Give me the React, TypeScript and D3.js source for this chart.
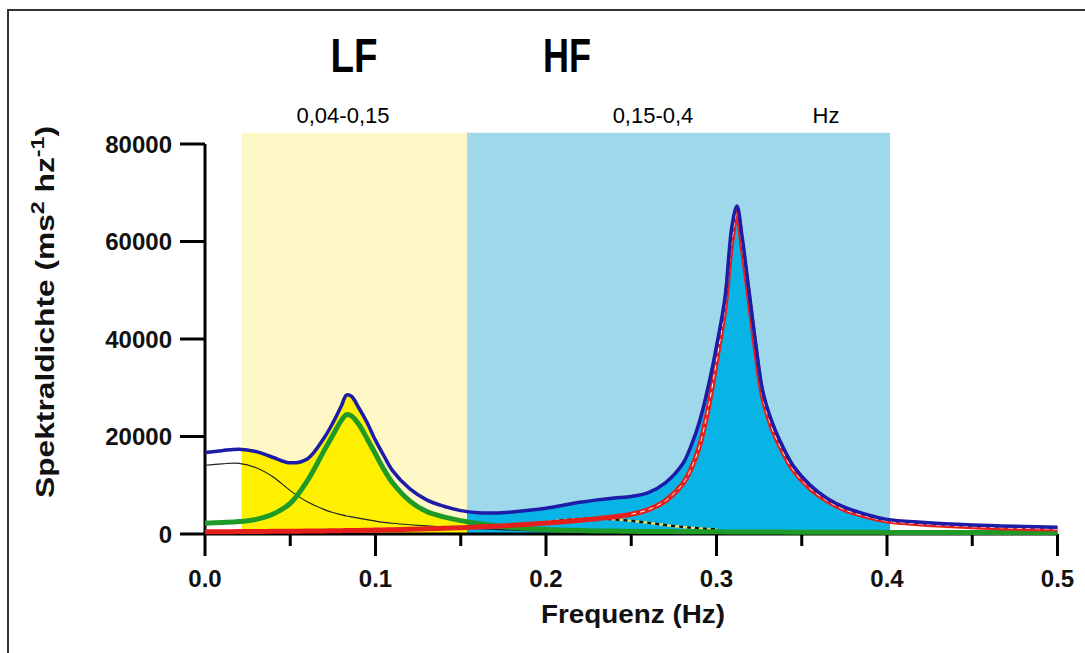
import * as React from "react";
import * as d3 from "d3";

// frequency grid (Hz), shared by every curve below
const freqs = [
  0, 0.01, 0.02, 0.03, 0.04, 0.05, 0.06, 0.07, 0.075, 0.08, 0.083, 0.086, 0.09, 0.095,
  0.1, 0.105, 0.11, 0.12, 0.13, 0.14, 0.15, 0.16, 0.17, 0.18, 0.19, 0.2, 0.21, 0.22,
  0.23, 0.24, 0.25, 0.26, 0.27, 0.28, 0.285, 0.29, 0.295, 0.3, 0.305, 0.309, 0.312,
  0.315, 0.319, 0.323, 0.327, 0.332, 0.337, 0.345, 0.355, 0.365, 0.375, 0.39, 0.4,
  0.42, 0.45, 0.48, 0.5,
];

// total spectrum (blue)
const totalPower = [
  16700, 17100, 17400, 16900, 15700, 14600, 15400, 19800, 22800, 26300, 28500, 28200, 26000, 22900,
  19200, 16000, 13000, 9300, 7000, 5700, 4800, 4350, 4300, 4500, 4850, 5300, 5900, 6500,
  7000, 7400, 7700, 8500, 10500, 14300, 18000, 23000, 30000, 38500, 48500, 63000, 67300,
  61000, 50000, 39000, 29500, 23500, 19300, 14000, 10000, 7300, 5500, 3800, 3000,
  2400, 1850, 1550, 1400,
];

// VLF component (thin black)
const vlfPower = [
  14100, 14400, 14500, 13600, 11700, 8900, 6600, 5000, 4400, 3950, 3700, 3500, 3250, 2950,
  2650, 2400, 2200, 1900, 1650, 1450, 1250, 1080, 930, 800, 700, 610, 540, 480,
  430, 390, 350, 320, 290, 270, 260, 250, 240, 230, 220, 215, 210,
  205, 200, 195, 190, 185, 180, 170, 160, 150, 140, 130, 125,
  115, 100, 90, 85,
];

// LF component (green)
const lfPower = [
  2200, 2350, 2550, 3000, 4100, 6300, 10900, 17200, 20300, 23300, 24500, 24200, 22600, 19600,
  16400, 13200, 10500, 6800, 4600, 3500, 2750, 2150, 1700, 1350, 1100, 900, 780, 700,
  640, 590, 550, 520, 500, 480, 470, 460, 450, 440, 430, 425, 420,
  415, 410, 405, 400, 395, 390, 380, 370, 360, 350, 340, 330,
  320, 300, 290, 280,
];

// small component near 0.22 Hz (dashed), only where it shows
const midPower = [
  null, null, null, null, null, null, null, null, null, null, null, null, null, null,
  null, null, null, null, null, null, null, null, null, 1500, 2000, 2450, 2850, 3100,
  3150, 3000, 2700, 2300, 1850, 1450, 1300, 1150, 1050, 950, null, null, null,
  null, null, null, null, null, null, null, null, null, null, null, null,
  null, null, null, null,
];

// HF component (red)
const hfPower = [
  450, 470, 490, 510, 540, 570, 600, 640, 660, 680, 700, 710, 730, 760,
  800, 840, 880, 970, 1070, 1180, 1300, 1440, 1600, 1780, 2000, 2230, 2500, 2800,
  3150, 3550, 4050, 5000, 6800, 10200, 13300, 18000, 25500, 35500, 46500, 60000, 66000,
  59000, 48500, 37500, 28200, 22200, 18200, 13100, 9300, 6800, 5000, 3400, 2650,
  2050, 1500, 1150, 1000,
];

// upper edge of the bright yellow LF area (LF part only)
const lfAreaTop = [
  16500, 16900, 17200, 16700, 15500, 14400, 15200, 19600, 22600, 26100, 28300, 27900, 25500, 22000,
  17800, 14200, 11300, 7400, 5000, 3800, 3000, 2400, null, null, null, null, null, null,
  null, null, null, null, null, null, null, null, null, null, null, null, null,
  null, null, null, null, null, null, null, null, null, null, null, null,
  null, null, null, null,
];

const xTicks = [0, 0.1, 0.2, 0.3, 0.4, 0.5];
const xMinorTicks = [0.05, 0.15, 0.25, 0.35, 0.45];
const yTicks = [0, 20000, 40000, 60000, 80000];

// shaded bands as drawn (Hz)
const lfBand = [0.0215, 0.1537];
const hfBand = [0.1537, 0.4018];
const bandTop = 82300;

const bandTitles = ["LF", "HF"];
const bandRanges = ["0,04-0,15", "0,15-0,4", "Hz"];

const FONT = "'Liberation Sans', Arial, sans-serif";

export default function App() {
  const width = 1085, height = 653;
  const x = d3.scaleLinear().domain([0, 0.5]).range([205, 1057.5]);
  const y = d3.scaleLinear().domain([0, 80000]).range([534, 144]);

  const rows = freqs.map((f, i) => ({
    f,
    total: totalPower[i],
    vlf: vlfPower[i],
    lf: lfPower[i],
    mid: midPower[i],
    hf: hfPower[i],
    lfTop: lfAreaTop[i],
  }));

  const curve = d3.curveCatmullRom.alpha(0.5);
  const lineOf = (key, from = 0) =>
    d3.line()
      .defined(d => d[key] != null && d.f >= from)
      .x(d => x(d.f))
      .y(d => y(d[key]))
      .curve(curve)(rows);

  const lfFill = d3.area()
    .defined(d => d.lfTop != null)
    .x(d => x(d.f))
    .y0(y(0))
    .y1(d => y(d.lfTop))
    .curve(curve)(rows);

  const hfFill = d3.area()
    .x(d => x(d.f))
    .y0(y(0))
    .y1(d => y(d.total))
    .curve(curve)(rows);

  return (
    <svg width={width} height={height}
         style={{position: "absolute", left: 0, top: 0, background: "#fff"}}
         fontFamily={FONT}>
      <defs>
        <clipPath id="clip-lf">
          <rect x={x(lfBand[0])} y={0} width={x(lfBand[1]) - x(lfBand[0])} height={y(0)}/>
        </clipPath>
        <clipPath id="clip-hf">
          <rect x={x(hfBand[0])} y={0} width={x(hfBand[1]) - x(hfBand[0])} height={y(0)}/>
        </clipPath>
      </defs>

      <rect x={8} y={10} width={1200} height={800} fill="none" stroke="#333" strokeWidth={2}/>

      {/* bands */}
      <rect x={x(lfBand[0])} y={y(bandTop)} width={x(lfBand[1]) - x(lfBand[0])}
            height={y(0) - y(bandTop)} fill="#fef7c6"/>
      <rect x={x(hfBand[0])} y={y(bandTop)} width={x(hfBand[1]) - x(hfBand[0])}
            height={y(0) - y(bandTop)} fill="#9fd8ea"/>

      <path d={lfFill} fill="#fff000" clipPath="url(#clip-lf)"/>
      <path d={hfFill} fill="#08b4e6" clipPath="url(#clip-hf)"/>

      {/* axes */}
      <line x1={x(0)} x2={x(0)} y1={y(0)} y2={y(80000)} stroke="#000" strokeWidth={3}/>
      <line x1={x(0)} x2={x(0.5)} y1={y(0)} y2={y(0)} stroke="#000" strokeWidth={3}/>
      {yTicks.map(t => (
        <g key={t}>
          <line x1={180} x2={x(0)} y1={y(t)} y2={y(t)} stroke="#000" strokeWidth={3}/>
          <text x={172} y={y(t)} dy="0.36em" textAnchor="end" fontSize={24} fontWeight="bold"
                fill="#111">{d3.format("d")(t)}</text>
        </g>
      ))}
      {xTicks.map(t => (
        <g key={t}>
          <line x1={x(t)} x2={x(t)} y1={y(0)} y2={556} stroke="#000" strokeWidth={3}/>
          <text x={x(t)} y={587} textAnchor="middle" fontSize={24} fontWeight="bold"
                fill="#111">{d3.format(".1f")(t)}</text>
        </g>
      ))}
      {xMinorTicks.map(t => (
        <line key={t} x1={x(t)} x2={x(t)} y1={y(0)} y2={546} stroke="#000" strokeWidth={3}/>
      ))}

      {/* curves */}
      <path d={lineOf("vlf")} fill="none" stroke="#222" strokeWidth={1.2}/>
      <path d={lineOf("mid")} fill="none" stroke="#e8e060" strokeWidth={2.4}/>
      <path d={lineOf("mid")} fill="none" stroke="#111" strokeWidth={2.4} strokeDasharray="4 4"/>
      <path d={lineOf("lf")} fill="none" stroke="#1f9a26" strokeWidth={5}/>
      <path d={lineOf("hf")} fill="none" stroke="#e5201c" strokeWidth={5}/>
      <path d={lineOf("hf", 0.25)} fill="none" stroke="#fff" strokeWidth={1} strokeDasharray="5 4"/>
      <path d={lineOf("total")} fill="none" stroke="#1c1ca8" strokeWidth={3.5}/>

      {/* band labels */}
      <text x={354} y={72} textAnchor="middle" fontSize={48} fontWeight="bold"
            textLength={47} lengthAdjust="spacingAndGlyphs">{bandTitles[0]}</text>
      <text x={567} y={72} textAnchor="middle" fontSize={48} fontWeight="bold"
            textLength={48} lengthAdjust="spacingAndGlyphs">{bandTitles[1]}</text>
      <text x={343} y={123} textAnchor="middle" fontSize={22}>{bandRanges[0]}</text>
      <text x={653} y={123} textAnchor="middle" fontSize={22}>{bandRanges[1]}</text>
      <text x={826} y={123} textAnchor="middle" fontSize={22}>{bandRanges[2]}</text>

      {/* axis titles */}
      <text x={633} y={623} textAnchor="middle" fontSize={25} fontWeight="bold"
            fill="#111" textLength={184} lengthAdjust="spacingAndGlyphs">Frequenz (Hz)</text>
      <g transform="translate(54,312) rotate(-90) scale(1.22,1)">
        <text textAnchor="middle" fontSize={26} fontWeight="bold" fill="#111">
          Spektraldichte (ms<tspan dy="-10" fontSize={19}>2</tspan>
          <tspan dy="10"> hz</tspan><tspan dy="-10" fontSize={19}>-1</tspan>
          <tspan dy="10">)</tspan>
        </text>
      </g>
    </svg>
  );
}
